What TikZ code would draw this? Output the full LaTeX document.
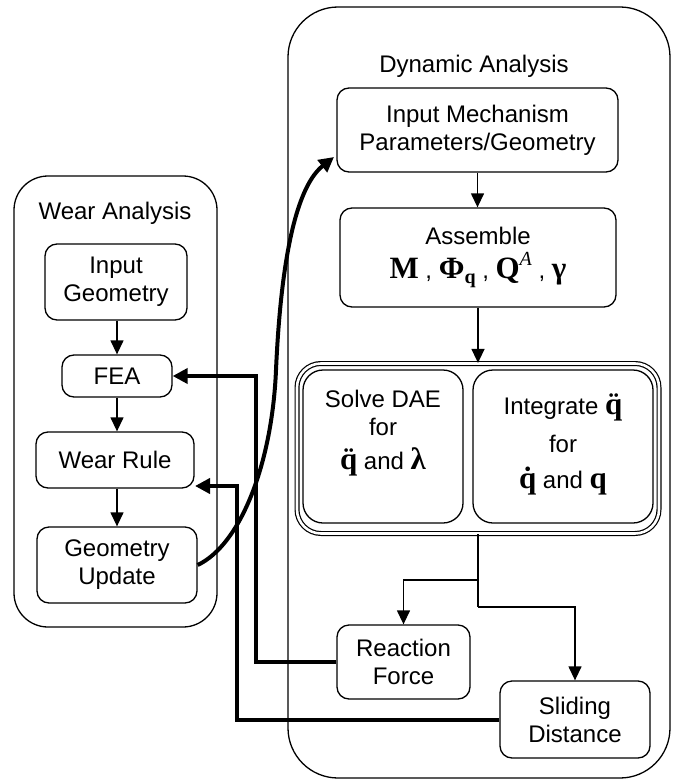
\documentclass[tikz,border=0pt]{standalone}
\usepackage{fontspec}
\setmainfont{Liberation Sans}
\newfontfamily\serf{Liberation Serif}
\usetikzlibrary{arrows.meta}
\newcommand\mb[1]{{\serf\bfseries\fontsize{15.5}{16}\selectfont #1}}
\newcommand\subsc[1]{\raisebox{-0.45ex}{\serf\bfseries\fontsize{10}{10}\selectfont #1}}
\newcommand\supsc[1]{\raisebox{1ex}{\serf\itshape\fontsize{10}{10}\selectfont #1}}
\newcommand\qdd{\mb{\accent"A8 q}}
\newcommand\qd{\mb{\accent"2D9 q}}
\begin{document}
\begin{tikzpicture}[x=0.5pt,y=-0.5pt,
  font=\fontsize{12}{14}\selectfont,
  box/.style={draw, line width=0.65pt, rounded corners=6pt, align=center, inner sep=0pt},
  outerbox/.style={draw, line width=0.65pt, inner sep=0pt},
  thinarrow/.style={line width=0.65pt, -{Triangle[length=7pt,width=6.5pt]}},
  thickarrow/.style={line width=2pt, -{Triangle[length=7.5pt,width=7.5pt]}}]
\useasboundingbox (0,0) rectangle (676,781);

% outer containers
\node[outerbox, rounded corners=25pt, minimum width=191pt, minimum height=385.5pt] (dyn) at (479,392.5) {};
\node[outerbox, rounded corners=17pt, minimum width=101.5pt, minimum height=225.5pt] (wear) at (115.5,401.5) {};
\node (dyntitle) at (474,66) {Dynamic Analysis};
\node (weartitle) at (115,213) {Wear Analysis};

% dynamic analysis boxes
\node[box, minimum width=140.5pt, minimum height=42pt] (inmech) at (477.5,130)
  {Input Mechanism\\Parameters/Geometry};
\node[box, minimum width=138pt, minimum height=49.5pt] (assem) at (478,257.5)
  {Assemble\\[3pt]\mb{M} , \mb{Φ}\subsc{q} , \mb{Q}\supsc{A} , \mb{γ}};
\node[draw, line width=0.6pt, double, double distance=1.3pt, rounded corners=12pt,
  inner sep=0pt, minimum width=181pt, minimum height=85pt] (dbl) at (478,448.5) {};
\node[box, rounded corners=10pt, minimum width=80pt, minimum height=76.5pt] (solve) at (383,446.5) {};
\node[box, rounded corners=10pt, minimum width=90pt, minimum height=76.5pt] (integ) at (563,446.5) {};
\node[align=center] (solvetxt) at (383,433) {Solve DAE\\for\\[3pt]\qdd\ and \mb{λ}};
\node[align=center] (integtxt) at (563,444) {Integrate \qdd\\[5pt]for\\[4pt]\qd\ and \mb{q}};
\node[box, minimum width=66.5pt, minimum height=37pt] (reac) at (403.5,662) {Reaction\\Force};
\node[box, minimum width=75pt, minimum height=38.5pt] (slid) at (575,719.5) {Sliding\\Distance};

% wear analysis boxes
\node[box, minimum width=71pt, minimum height=38pt] (ingeo) at (116,282) {Input\\Geometry};
\node[box, minimum width=55pt, minimum height=21pt] (fea) at (117,376) {FEA};
\node[box, minimum width=79pt, minimum height=28pt] (wrule) at (115,460) {Wear Rule};
\node[box, minimum width=80pt, minimum height=38pt] (geou) at (117,565) {Geometry\\Update};

% thin arrows
\draw[thinarrow] (inmech.south) -- (inmech.south |- assem.north);
\draw[thinarrow] (assem.south) -- (assem.south |- dbl.north);
\coordinate (br1) at (478,580);
\coordinate (br2) at (478,607);
\draw[line width=0.65pt] (dbl.south) -- (br2);
\draw[thinarrow] (br1) -| (reac.north);
\draw[thinarrow] (br2) -| (slid.north);
\draw[thinarrow] (ingeo.south -| fea.north) -- (fea.north);
\draw[thinarrow] (fea.south) -- (fea.south |- wrule.north);
\draw[thinarrow] (wrule.south -| fea.south) -- (fea.south |- geou.north);

% thick feedback arrows
\coordinate (rx) at (256,0);
\coordinate (sx) at (237,0);
\coordinate (wrin) at (195,486);
\draw[thickarrow] (reac.west) -| (rx |- fea.east) -- (fea.east);
\draw[thickarrow] (slid.west) -| (sx |- wrin) -- (wrin);
\coordinate (mechin) at (334,157);
\draw[thickarrow] (geou.east) .. controls (240,545) and (272,465) .. (276,370)
  .. controls (280,280) and (292,190) .. (mechin);
\end{tikzpicture}
\end{document}
